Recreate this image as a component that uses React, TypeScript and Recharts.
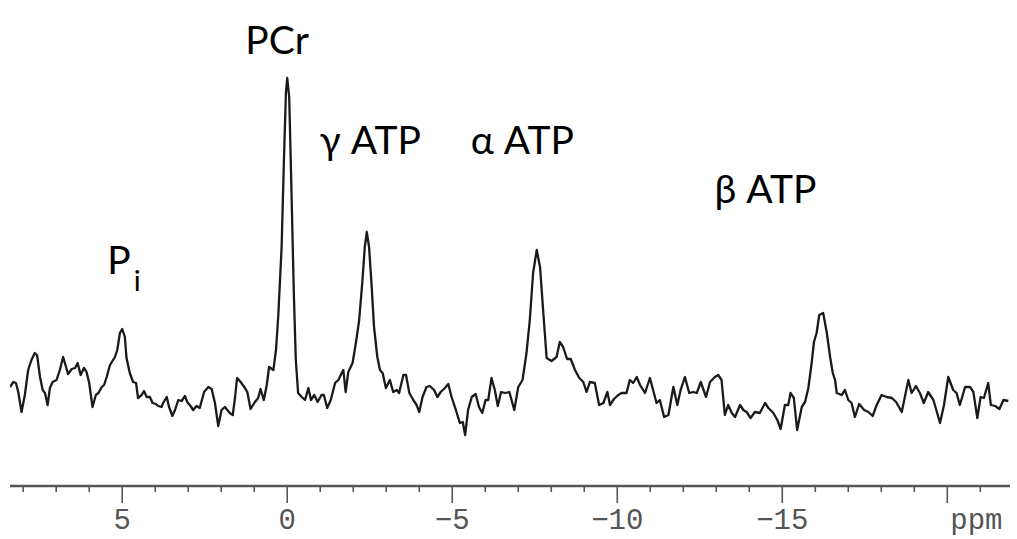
import React from 'react';
import { LineChart, Line, XAxis, YAxis, ReferenceDot } from 'recharts';

// 31P NMR spectrum: chemical shift (ppm) and signal intensity (a.u.)
const ppm = [
  8.40, 8.30, 8.22, 8.15, 8.05, 7.95, 7.85, 7.75, 7.65, 7.58,
  7.49, 7.41, 7.34, 7.26, 7.19, 7.11, 6.99, 6.89, 6.79, 6.72,
  6.64, 6.53, 6.43, 6.35, 6.26, 6.16, 6.08, 6.00, 5.90, 5.80,
  5.72, 5.62, 5.55, 5.47, 5.37, 5.22, 5.15, 5.07, 5.00, 4.92,
  4.87, 4.77, 4.67, 4.58, 4.52, 4.41, 4.34, 4.26, 4.16, 4.08,
  3.98, 3.91, 3.81, 3.76, 3.65, 3.58, 3.48, 3.40, 3.30, 3.20,
  3.10, 3.03, 2.93, 2.85, 2.75, 2.65, 2.52, 2.39, 2.29, 2.19,
  2.09, 1.99, 1.89, 1.74, 1.65, 1.58, 1.52, 1.41, 1.28, 1.21,
  1.11, 0.98, 0.88, 0.81, 0.71, 0.62, 0.55, 0.42, 0.34, 0.27,
  0.17, 0.10, 0.04, 0.00, -0.06, -0.13, -0.20, -0.26, -0.33, -0.44,
  -0.54, -0.64, -0.72, -0.82, -0.92, -1.04, -1.11, -1.21, -1.32, -1.45,
  -1.55, -1.65, -1.70, -1.77, -1.85, -1.98, -2.08, -2.18, -2.28, -2.35,
  -2.41, -2.48, -2.56, -2.63, -2.73, -2.81, -2.89, -2.99, -3.11, -3.21,
  -3.32, -3.39, -3.52, -3.60, -3.70, -3.82, -3.92, -4.00, -4.10, -4.22,
  -4.32, -4.45, -4.55, -4.65, -4.78, -4.88, -4.98, -5.11, -5.23, -5.32,
  -5.39, -5.48, -5.59, -5.71, -5.81, -5.91, -6.01, -6.09, -6.19, -6.29,
  -6.38, -6.48, -6.60, -6.73, -6.88, -7.00, -7.13, -7.25, -7.35, -7.45,
  -7.56, -7.66, -7.76, -7.86, -8.01, -8.16, -8.26, -8.36, -8.48, -8.59,
  -8.72, -8.85, -8.97, -9.07, -9.17, -9.32, -9.45, -9.58, -9.70, -9.78,
  -9.90, -10.03, -10.13, -10.28, -10.38, -10.48, -10.59, -10.69, -10.84, -10.99,
  -11.11, -11.19, -11.29, -11.42, -11.55, -11.70, -11.82, -11.92, -12.05, -12.18,
  -12.30, -12.41, -12.53, -12.69, -12.81, -12.96, -13.06, -13.16, -13.26, -13.36,
  -13.47, -13.57, -13.72, -13.82, -13.92, -14.04, -14.17, -14.32, -14.48, -14.58,
  -14.73, -14.85, -14.95, -15.08, -15.18, -15.25, -15.35, -15.45, -15.59, -15.69,
  -15.79, -15.89, -15.96, -16.04, -16.12, -16.24, -16.35, -16.45, -16.53, -16.60,
  -16.65, -16.80, -16.90, -17.00, -17.10, -17.20, -17.33, -17.48, -17.61, -17.74,
  -17.86, -18.01, -18.16, -18.32, -18.45, -18.62, -18.82, -18.92, -19.05, -19.17,
  -19.29, -19.42, -19.58, -19.78, -19.90, -20.03, -20.18, -20.28, -20.38, -20.54,
  -20.69, -20.79, -20.91, -21.01, -21.11, -21.24, -21.32, -21.45, -21.58, -21.70,
  -21.85,
];

const intensity = [
  13, 18, 17, 8, -12, 5, 30, 40, 47, 45,
  23, 10, 7, -5, 12, 18, 20, 30, 43, 35,
  26, 31, 32, 37, 25, 32, 28, 17, -7, 5,
  7, 13, 15, 23, 35, 43, 50, 67, 71, 63,
  42, 27, 18, 17, 2, 5, 9, 3, 3, -3,
  -4, -6, -7, -3, 3, -7, -16, -10, 0, -1,
  4, -2, -6, -10, -6, -8, 8, 13, 11, -3,
  -26, -10, -7, -13, -15, 3, 22, 18, 12, 8,
  -9, -2, 2, 11, 0, 15, 33, 30, 50, 85,
  153, 240, 307, 322, 303, 207, 107, 40, 7, 3,
  0, 12, 0, 5, -2, 5, 5, -8, 0, 17,
  20, 27, 30, 8, 28, 37, 57, 80, 120, 153,
  168, 153, 113, 73, 43, 30, 27, 12, 20, 8,
  10, 7, 25, 25, 7, 0, -5, -12, 3, 13,
  14, 10, 3, 8, 12, 16, 3, -10, -23, -22,
  -35, -10, 3, 6, -7, -13, 0, 0, 22, 10,
  -6, 8, 7, 8, -10, 13, 20, 47, 80, 127,
  150, 133, 87, 42, 39, 43, 58, 53, 41, 41,
  30, 22, 18, 8, 18, 17, -5, -3, 8, -5,
  1, 5, 7, 7, 20, 17, 23, 15, 7, 22,
  7, -3, 0, -17, -15, 13, -5, 10, 23, 7,
  8, 7, 18, 3, 18, 23, 25, 20, -15, -5,
  -13, -17, -5, -10, -12, -18, -12, -13, -3, -8,
  -13, -20, -29, -5, -5, 7, 2, -30, -7, -2,
  12, 37, 58, 67, 85, 87, 67, 43, 27, 20,
  7, 5, 10, 0, -3, -17, -4, -10, -12, -16,
  -5, 5, 3, 2, -2, -12, 20, 7, 14, 7,
  -3, 8, 0, -23, -5, 23, 10, 7, -5, 13,
  13, 8, -18, 3, 2, 17, -5, -6, -9, 0,
  -1,
];

// Axis ticks
const minorTicks = [
  8, 7, 6, 5, 4, 3, 2, 1, 0, -1, -2, -3, -4, -5, -6, -7, -8, -9, -10,
  -11, -12, -13, -14, -15, -16, -17, -18, -19, -20, -21,
];
const majorTicks = [5, 0, -5, -10, -15, -20];
const majorTickLabels = ['5', '0', '\u22125', '\u221210', '\u221215', 'ppm'];

// Peak annotations (text, anchor in data coordinates)
const peakLabels = ['PCr', '\u03B3 ATP', '\u03B1 ATP', '\u03B2 ATP', 'P'];
const peakLabelPpm = [1.27, -0.98, -5.56, -12.95, 5.45];
const peakLabelLevel = [346, 246, 246, 197, 126];
const subscriptLabel = 'i';

const data = ppm.map((p, i) => ({ ppm: p, signal: intensity[i] }));

const AxisTick = (props: any) => {
  const { x, y, payload } = props;
  const idx = majorTicks.indexOf(payload.value);
  const major = idx >= 0;
  const label = major ? majorTickLabels[idx] : null;
  const isUnit = label === 'ppm';
  return (
    <g>
      <line x1={x} x2={x} y1={y} y2={y + (major ? 17 : 6)} stroke="#555" strokeWidth={1.6} />
      {major && (
        <text
          x={isUnit ? x + 3 : x}
          y={y + 43}
          textAnchor={isUnit ? 'start' : 'middle'}
          fontFamily="'Liberation Mono', 'DejaVu Sans Mono', monospace"
          fontSize={29}
          fill="#555"
        >
          {label}
        </text>
      )}
    </g>
  );
};

const makeLabelShape = (i: number) => (props: any) => {
  const { cx, cy } = props;
  const isPi = i === 4;
  return (
    <text
      x={cx}
      y={cy}
      textAnchor="start"
      fontFamily="Lato, 'Open Sans', sans-serif"
      fontSize={39}
      fill="#000"
    >
      {peakLabels[i]}
      {isPi && (
        <tspan fontSize={29} dy={17} dx={3}>
          {subscriptLabel}
        </tspan>
      )}
    </text>
  );
};

export default function App() {
  return (
    <div style={{ position: 'fixed', left: 0, top: 0, background: '#fff' }}>
      <LineChart
        width={1017}
        height={539}
        data={data}
        margin={{ top: 0, right: 7, bottom: 0, left: 10 }}
      >
        <XAxis
          dataKey="ppm"
          type="number"
          domain={[-21.9, 8.4]}
          reversed
          allowDataOverflow
          ticks={minorTicks}
          interval={0}
          tickLine={false}
          tickSize={0}
          tickMargin={0}
          height={53}
          axisLine={{ stroke: '#555', strokeWidth: 2.5 }}
          tick={<AxisTick />}
        />
        <YAxis hide type="number" domain={[-86, 400]} allowDataOverflow />
        <Line
          type="linear"
          dataKey="signal"
          stroke="#1a1a1a"
          strokeWidth={2.3}
          strokeLinejoin="round"
          dot={false}
          isAnimationActive={false}
        />
        {peakLabels.map((t, i) => (
          <ReferenceDot
            key={t}
            x={peakLabelPpm[i]}
            y={peakLabelLevel[i]}
            r={0}
            ifOverflow="visible"
            shape={makeLabelShape(i)}
          />
        ))}
      </LineChart>
    </div>
  );
}
